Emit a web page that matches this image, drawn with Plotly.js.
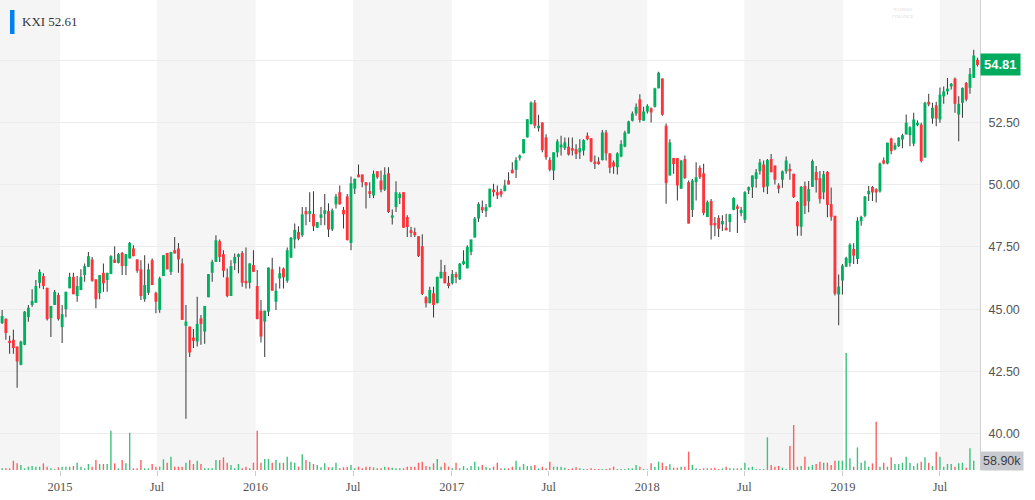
<!DOCTYPE html>
<html><head><meta charset="utf-8">
<script src="https://cdn.plot.ly/plotly-3.0.1.min.js"></script>
<style>html,body{margin:0;padding:0;background:#fff}#chart{width:1035px;height:500px}</style>
</head><body><div id="chart"></div>
<script>
const firstWeek = '2014-09-15';
const open = [
44.44,44.61,43.73,43.77,43.50,42.77,43.57,44.68,45.17,45.26,
46.06,46.33,45.86,44.64,45.17,45.57,44.28,45.00,45.84,46.30,
45.53,45.77,46.37,46.70,47.00,46.20,45.64,46.46,46.17,46.41,
47.00,46.86,47.26,46.73,47.04,47.44,47.00,46.60,45.40,45.66,
46.97,45.66,44.97,46.33,47.26,46.50,47.37,47.44,46.84,44.33,
44.30,43.86,43.70,44.63,44.10,45.48,46.46,46.90,47.73,47.21,
46.28,45.53,46.84,47.10,47.26,46.14,46.06,46.77,45.93,44.94,
44.50,44.90,46.60,45.30,46.24,46.63,46.14,47.07,47.80,48.10,
47.97,48.94,48.83,48.83,48.27,48.67,48.83,48.94,48.20,49.21,
49.70,48.99,49.53,47.66,49.84,50.41,50.41,50.10,49.74,49.57,
50.54,50.17,49.80,50.46,48.67,49.10,49.47,49.70,48.70,48.17,
48.10,47.93,47.53,45.48,45.24,45.64,45.24,46.24,46.50,46.06,
46.04,46.41,46.20,46.81,46.64,47.30,47.88,48.64,49.10,48.94,
49.10,49.80,49.70,49.74,49.74,50.17,50.60,50.60,51.07,51.26,
51.90,52.43,53.30,52.27,52.50,51.90,51.00,50.57,51.30,51.50,
51.47,51.53,51.47,51.43,51.30,51.37,51.97,51.87,50.93,50.93,
50.99,52.10,51.26,50.90,50.70,51.13,51.53,52.06,52.57,52.86,
53.43,52.57,52.94,53.07,53.13,53.87,54.27,52.37,50.37,51.07,
51.07,49.84,51.03,50.10,48.99,50.10,50.68,50.46,48.70,49.34,
48.46,48.67,48.41,48.27,48.50,48.99,49.13,48.86,48.59,49.77,
49.90,50.23,50.54,50.81,49.93,51.03,50.77,49.97,50.20,50.54,
50.63,50.44,49.30,48.31,49.95,49.33,49.91,50.51,50.26,49.69,
50.51,49.22,48.75,45.59,46.15,46.71,46.85,47.42,47.02,48.53,
48.75,49.62,49.91,49.82,49.73,50.98,50.85,51.86,51.42,51.55,
51.82,52.02,51.99,51.65,52.39,52.42,51.09,53.33,52.66,53.19,
52.62,53.55,53.75,53.95,54.26,52.82,53.29,54.09,53.89,54.29,
55.02];
const high = [
44.97,44.64,43.93,44.17,43.50,43.73,44.93,45.17,45.80,46.17,
46.60,46.44,45.86,45.13,45.77,45.66,45.17,45.70,46.46,46.46,
46.33,46.60,46.84,47.30,47.10,46.20,46.37,46.84,46.46,47.17,
47.53,47.26,47.30,47.21,47.70,47.57,47.00,46.97,47.17,46.84,
47.04,45.70,46.30,47.17,47.26,47.30,47.90,47.66,47.04,45.17,
44.30,44.20,45.50,44.77,45.13,46.41,46.99,47.97,47.80,47.37,
46.63,46.97,47.24,47.24,47.34,47.48,46.84,47.37,46.57,45.37,
44.94,46.67,47.07,46.04,46.70,46.67,47.48,47.90,48.44,48.33,
49.10,49.10,49.70,49.74,48.50,49.10,49.63,49.26,49.04,49.63,
49.97,49.10,49.63,50.33,50.24,50.81,50.41,50.10,50.10,50.57,
50.54,50.57,50.70,50.70,49.00,50.14,49.70,49.70,48.77,48.30,
48.27,47.93,48.01,45.53,45.90,45.90,46.30,46.99,46.77,46.33,
46.57,46.50,46.86,47.37,47.57,47.80,48.70,49.30,49.37,49.23,
49.84,50.04,49.97,49.84,50.20,50.50,50.90,51.10,51.21,51.83,
52.63,53.34,53.40,52.81,52.50,52.03,51.10,51.30,51.83,51.97,
51.90,51.90,51.90,51.63,51.83,51.83,52.10,51.87,51.17,51.10,
52.20,52.20,51.26,50.97,51.30,51.79,52.17,52.57,52.94,53.26,
53.63,53.13,53.23,53.10,53.90,54.54,54.27,52.46,51.83,51.07,
51.07,50.99,51.17,50.17,50.23,50.90,50.77,50.84,49.37,49.43,
48.70,48.77,48.77,48.83,48.83,49.50,49.21,49.10,49.74,49.93,
50.37,50.63,51.03,50.97,51.03,51.23,50.77,50.06,50.57,51.13,
50.84,50.44,49.35,49.95,50.13,50.15,51.01,50.75,50.55,50.55,
50.55,49.89,48.75,46.39,46.82,47.11,47.65,47.65,48.69,48.75,
49.55,49.95,49.95,49.86,50.89,51.09,51.69,51.89,51.69,51.91,
52.05,52.82,52.35,52.89,52.58,52.49,53.33,53.65,53.29,53.33,
53.91,53.95,54.29,54.09,54.31,53.55,53.91,54.13,54.69,55.42,
55.10];
const low = [
44.40,43.77,43.21,43.21,41.84,42.75,43.55,44.50,45.10,45.26,
45.84,45.80,44.55,43.88,45.17,44.55,43.64,44.68,45.84,45.60,
45.30,45.77,46.10,46.70,46.10,45.04,45.40,45.70,45.70,46.41,
46.86,46.84,46.37,46.37,47.04,47.13,46.46,45.37,45.30,45.57,
45.97,44.84,44.86,46.33,46.60,46.37,47.24,46.46,44.57,40.60,
43.08,43.44,43.50,43.57,43.61,45.48,46.10,46.90,46.90,46.28,
45.48,45.53,46.57,46.44,45.90,45.83,45.83,46.50,44.60,43.66,
43.08,44.73,45.74,44.97,45.83,45.83,46.06,47.07,47.44,47.77,
47.90,48.37,48.50,48.14,48.27,48.37,48.37,47.90,48.14,49.04,
49.21,48.24,47.77,47.37,49.63,50.30,49.90,49.04,49.47,49.47,
50.24,49.70,49.75,48.86,48.40,48.90,49.23,48.27,47.90,47.90,
47.90,47.10,45.57,45.07,45.24,44.67,45.24,46.24,46.04,45.84,
45.99,46.04,46.17,46.77,46.64,47.17,47.88,48.50,48.86,48.70,
49.08,49.53,49.43,49.50,49.74,50.01,50.46,50.27,50.97,51.26,
51.90,52.43,52.27,52.14,51.30,51.00,50.54,50.19,51.10,51.17,
51.39,51.17,51.17,51.03,51.03,51.17,51.79,50.90,50.63,50.80,
50.97,50.97,50.46,50.44,50.41,51.10,51.50,52.06,52.54,52.77,
52.50,52.57,52.86,52.50,53.10,53.87,52.77,49.24,50.37,50.44,
49.37,49.84,50.23,48.44,48.70,49.37,50.23,48.77,48.70,47.80,
47.93,47.90,48.14,48.17,48.10,48.97,48.06,48.73,48.46,49.63,
49.47,49.88,50.41,49.70,49.63,50.50,50.01,49.66,49.88,50.44,
50.20,49.47,47.95,47.95,48.82,48.89,49.91,49.69,49.25,49.42,
48.69,48.55,45.55,44.35,45.59,46.69,46.71,46.82,46.82,48.35,
48.69,49.35,49.35,49.29,49.69,50.82,50.82,51.22,51.38,51.51,
51.46,52.02,51.55,51.55,52.35,50.89,51.09,53.15,52.45,52.35,
52.49,53.25,53.62,53.82,52.89,51.75,52.69,53.35,53.65,54.29,
54.75];
const close = [
44.73,44.04,43.64,43.44,42.90,43.70,44.90,45.06,45.33,45.93,
46.50,45.93,44.60,45.13,45.70,44.60,44.80,45.70,46.30,45.60,
45.93,46.30,46.73,47.13,46.14,45.40,46.37,46.04,46.46,47.13,
46.86,47.21,46.73,47.21,47.66,47.13,46.54,45.53,45.97,46.60,
45.97,45.30,46.24,47.17,46.60,47.30,47.24,47.00,44.57,44.50,
43.26,43.73,44.41,44.41,45.13,46.41,46.90,47.77,47.10,46.54,
45.53,46.73,47.10,47.21,46.06,46.04,46.84,46.50,44.60,43.90,
44.94,46.67,45.74,45.74,46.44,46.28,47.37,47.87,48.19,47.83,
48.81,48.81,48.94,48.33,48.50,48.81,48.97,48.20,48.97,49.53,
49.21,48.81,47.77,50.06,50.24,50.30,50.10,49.97,49.63,50.44,
50.30,49.80,50.40,48.90,48.77,49.70,49.63,48.27,48.30,48.06,
47.97,47.13,45.61,45.24,45.77,45.17,46.30,46.50,46.04,45.93,
46.41,46.28,46.83,46.93,47.50,47.80,48.64,49.23,48.97,49.10,
49.84,49.70,49.57,49.61,49.97,50.01,50.46,50.99,51.17,51.83,
52.63,53.30,52.37,52.37,51.39,51.10,50.60,51.30,51.74,51.61,
51.70,51.21,51.37,51.23,51.47,51.79,51.83,50.94,50.83,50.83,
52.10,51.26,50.68,50.73,51.26,51.63,52.10,52.54,52.86,53.13,
52.60,52.94,53.17,52.90,53.87,54.50,52.81,50.06,51.70,50.83,
49.97,50.97,50.27,48.44,50.17,50.30,50.30,48.86,49.30,48.37,
48.37,48.23,48.54,48.17,48.81,49.47,49.03,48.99,49.70,49.90,
50.37,50.50,50.90,49.90,50.99,50.50,50.20,49.84,50.54,50.97,
50.54,49.50,48.33,49.91,49.15,49.82,50.95,50.18,49.42,50.42,
49.19,48.71,45.62,45.91,46.75,47.06,47.59,47.15,48.55,48.71,
49.53,49.75,49.69,49.69,50.85,50.85,51.69,51.35,51.59,51.89,
51.99,52.49,52.31,52.62,52.49,50.95,53.29,53.22,53.09,52.66,
53.62,53.75,53.86,54.05,53.25,53.25,53.89,53.42,54.45,55.19,
54.81];
const volumeK = [
10.5,10.5,10.5,59,42,32,10.5,21,25,21,
21,42,21,10.5,5,17,21,21,21,25,
46,21,10.5,38,21,63,38,38,38,249,
42,10.5,63,42,236,10.5,10.5,63,10.5,10.5,
38,21,21,68,46,84,21,21,21,46,
63,38,59,38,10.5,10.5,10.5,63,63,80,
46,32,10.5,38,10.5,21,10.5,46,249,46,
70,70,46,63,46,46,84,53,46,21,
99,63,53,38,32,17,42,17,17,46,
10.5,17,21,32,10.5,21,10.5,21,21,17,
10.5,10.5,21,17,15,10.5,10.5,10.5,21,21,
21,46,53,25,21,42,70,21,46,21,
10.5,46,10.5,25,10.5,25,53,21,32,21,
10.5,21,46,10.5,10.5,10.5,21,59,21,38,
25,25,32,10.5,21,10.5,53,21,21,21,
15,6,10.5,17,10.5,6,6,10.5,6,6,
6,6,10.5,21,6,6,6,10.5,10.5,32,
21,6,4,42,21,53,46,25,36,15,
15,21,21,116,32,10.5,6,10.5,10.5,10.5,
15,6,10.5,21,10.5,10.5,10.5,10.5,46,15,
21,6,6,6,207,32,21,25,15,6,
152,285,21,25,84,21,32,38,53,46,
46,32,59,59,59,741,74,21,143,46,
59,21,42,306,21,46,21,80,38,38,
46,84,46,25,42,53,80,46,25,116,
84,21,38,38,21,42,46,15,137,58.9,
0];
const tickDates = ['2015-01-01','2015-07-01','2016-01-01','2016-07-01','2017-01-01','2017-07-01','2018-01-01','2018-07-01','2019-01-01','2019-07-01'];
const tickLabels = ['2015','Jul','2016','Jul','2017','Jul','2018','Jul','2019','Jul'];
const bandStarts = ['2014-07-01','2015-07-01','2016-07-01','2017-07-01','2018-07-01','2019-07-01'];
const bandEnds = ['2015-01-01','2016-01-01','2017-01-01','2018-01-01','2019-01-01','2020-01-01'];
const priceTicks = [40, 42.5, 45, 47.5, 50, 52.5, 55];
const legendText = 'KXI 52.61';
const lastPriceText = '54.81';
const lastVolume = 58.9;
const lastVolumeText = '58.90k';
const xRange = ['2014-09-11 01:00', '2019-09-13 17:00'];
const priceRange = [38.54, 57.42];
const volumeRange = [0, 2975000];

const UP = '#00b061', DOWN = '#ff333a', VUP = '#3cc27c', VDOWN = '#ff5f5f', WICK = '#3a3a3a';
const DAY = 864e5;
const t0 = Date.parse(firstWeek + 'T00:00:00Z');
const dates = open.map((_, i) => new Date(t0 + i * 7 * DAY).toISOString().slice(0, 10));
const isUp = close.map((c, i) => c >= open[i]);
const bodyBase = close.map((c, i) => Math.min(c, open[i]));
const bodyLen = close.map((c, i) => Math.max(Math.abs(c - open[i]), 0.04));
const wickLen = high.map((h, i) => h - low[i]);

const traces = [
  {type:'bar', x:dates, y:wickLen, base:low, width:1.9*DAY,
   marker:{color:WICK, line:{width:0}}, hoverinfo:'skip', yaxis:'y'},
  {type:'bar', x:dates, y:bodyLen, base:bodyBase, width:5.4*DAY,
   marker:{color:isUp.map(u => u ? UP : DOWN), line:{width:0}}, hoverinfo:'skip', yaxis:'y'},
  {type:'bar', x:dates, y:volumeK.map(v => v * 1000), width:2.6*DAY,
   marker:{color:isUp.map(u => u ? VUP : VDOWN), line:{width:0}}, hoverinfo:'skip', yaxis:'y2'}
];

const clampL = d => (d < xRange[0] ? xRange[0] : d);
const clampR = d => (d > xRange[1] ? xRange[1] : d);
const shapes = bandStarts.map((s, i) => ({
  type:'rect', xref:'x', yref:'paper', x0:clampL(s), x1:clampR(bandEnds[i]), y0:0, y1:1,
  fillcolor:'#f5f5f5', line:{width:0}, layer:'below'
}));
shapes.push({type:'rect', xref:'paper', yref:'paper', x0:10/980, x1:14.5/980, y0:1-34/470, y1:1-10/470,
  fillcolor:'#0081f2', line:{width:0}, layer:'above'});

const layout = {
  width:1035, height:500,
  margin:{l:0, r:55, t:0, b:30},
  paper_bgcolor:'#ffffff', plot_bgcolor:'#ffffff',
  showlegend:false, hovermode:false, barmode:'overlay',
  xaxis:{type:'date', range:xRange, showgrid:false, zeroline:false, showline:false,
    tickmode:'array', tickvals:tickDates, ticktext:tickLabels,
    ticks:'outside', ticklen:5, tickcolor:'#cccccc',
    tickfont:{family:'Liberation Serif, serif', size:12.5, color:'#555555'}},
  yaxis:{side:'right', range:priceRange, tickmode:'array', tickvals:priceTicks,
    ticktext:priceTicks.map(v => v.toFixed(2)), showgrid:true, gridcolor:'#ececec', gridwidth:1,
    zeroline:false, showline:true, linecolor:'#cfcfcf', linewidth:1, ticks:'',
    ticklabelstandoff:5,
    tickfont:{family:'Liberation Sans, Arial, sans-serif', size:12.5, color:'#555555'}},
  yaxis2:{overlaying:'y', range:volumeRange, visible:false, showgrid:false, zeroline:false},
  shapes:shapes,
  annotations:[
    {xref:'paper', yref:'paper', x:20/980, y:1-22/470, xanchor:'left', yanchor:'middle',
     text:legendText, showarrow:false,
     font:{family:'Liberation Serif, serif', size:13, color:'#333333'}},
    {xref:'paper', yref:'y', x:1, y:close[close.length-1], xanchor:'left', yanchor:'middle',
     text:'<b>'+lastPriceText+'</b>', showarrow:false, bgcolor:'#00ab5e', borderpad:3,
     font:{family:'Liberation Sans, Arial, sans-serif', size:13, color:'#ffffff'}},
    {xref:'paper', yref:'y2', x:1, y:lastVolume*1000, xanchor:'left', yanchor:'middle',
     text:lastVolumeText, showarrow:false, bgcolor:'#c9cacf', borderpad:2,
     font:{family:'Liberation Sans, Arial, sans-serif', size:12.5, color:'#3a3d45'}},
    {xref:'paper', yref:'paper', x:903/980, y:1-13/470, xanchor:'center', yanchor:'middle',
     text:'YAHOO!<br>FINANCE', showarrow:false,
     font:{family:'Liberation Serif, serif', size:5, color:'#dcdcdc'}}
  ]
};
Plotly.newPlot('chart', traces, layout, {displayModeBar:false, staticPlot:true});
</script></body></html>
